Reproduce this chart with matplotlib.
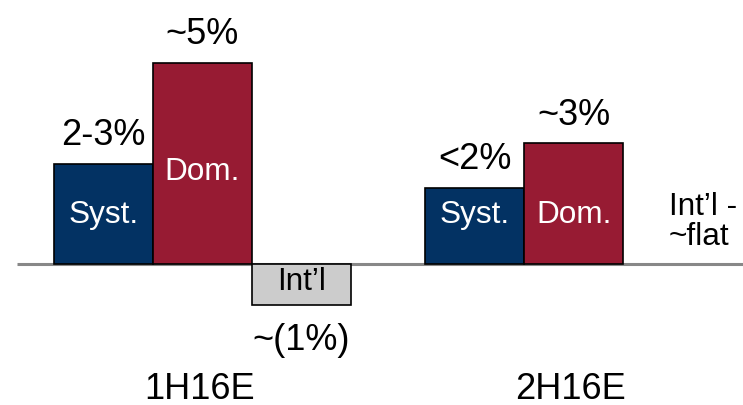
import matplotlib
matplotlib.use("Agg")
import matplotlib.pyplot as plt

plt.rcParams["font.family"] = ["Liberation Sans", "DejaVu Sans"]

# growth by segment, % (int'l in 2H16E is flat, so no bar is drawn)
segments = ["Syst.", "Dom.", "Int\u2019l"]
growth_1h = [2.5, 5.0, -1.0]
growth_2h = [1.9, 3.0]
value_labels_1h = ["2-3%", "~5%", "~(1%)"]
value_labels_2h = ["<2%", "~3%"]
periods = ["1H16E", "2H16E"]

colors = ["#033263", "#971b33", "#cccccc"]
text_colors = ["white", "white", "black"]

fig = plt.figure(figsize=(7.43, 4.06), dpi=100)
ax = fig.add_axes([0, 0, 1, 1])
ax.set_xlim(-1.045, 6.46)
ax.set_ylim(-3.478, 6.572)
ax.axis("off")

group_start = [0.0, 3.75]

ax.hlines(0, -0.874, 6.46, color="#888888", linewidth=2.2, zorder=1)

for g, (vals, labs) in enumerate([(growth_1h, value_labels_1h),
                                  (growth_2h, value_labels_2h)]):
    x0 = group_start[g]
    for i, v in enumerate(vals):
        x = x0 + i
        ax.bar(x, v, width=1.0, color=colors[i], edgecolor="black",
               linewidth=1.2, zorder=2)
        # segment name inside the bar
        if v > 0:
            ty = 1.25 if (i == 0 or g == 1) else v - 2.69
        else:
            ty = v + 0.58
        ax.text(x, ty, segments[i], ha="center", va="center",
                fontsize=22.7, color=text_colors[i], zorder=3)
        # value annotation
        ly = v + 0.72 if v > 0 else v - 0.86
        ax.text(x, ly, labs[i], ha="center", va="center", fontsize=26,
                color="black")

ax.text(5.71, 1.45, "Int\u2019l -", ha="left", va="center", fontsize=22.7)
ax.text(5.71, 0.7, "~flat", ha="left", va="center", fontsize=22.7)

for g, name in enumerate(periods):
    ax.text(group_start[g] + 0.97, -3.06, name, ha="center", va="center",
            fontsize=26)

fig.savefig("out.png", dpi=100, facecolor="white")
